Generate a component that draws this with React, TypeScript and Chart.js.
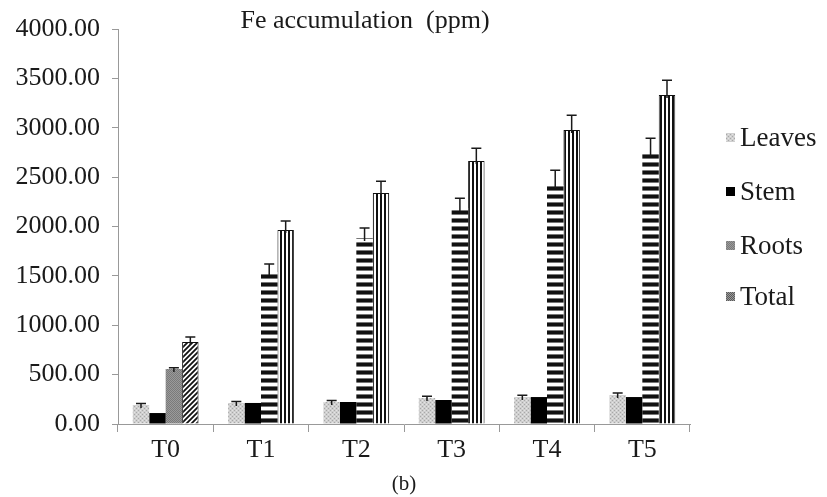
import React, { useEffect, useRef } from "react";
import { Chart, registerables } from "chart.js";

Chart.register(...registerables);

const categories = ["T0", "T1", "T2", "T3", "T4", "T5"];
const leaves = [192, 213, 223, 263, 273, 294];
const stem = [111, 213, 223, 243, 273, 273];
const roots = [557, 1539, 1884, 2187, 2420, 2744];
const total = [830, 1965, 2339, 2663, 2977, 3332];
const leavesErr = [15, 15, 15, 18, 18, 20];
const stemErr = [0, 0, 0, 0, 0, 0];
const rootsErr = [12, 80, 100, 100, 150, 150];
const totalErr = [50, 90, 120, 130, 150, 150];
const yTicks = [0, 500, 1000, 1500, 2000, 2500, 3000, 3500, 4000];
const seriesNames = ["Leaves", "Stem", "Roots", "Total"];

const FONT = "'Liberation Serif', 'Times New Roman', serif";

function makePattern(w: number, h: number, draw: (c: CanvasRenderingContext2D) => void) {
  const cv = document.createElement("canvas");
  cv.width = w;
  cv.height = h;
  const c = cv.getContext("2d")!;
  draw(c);
  return c.createPattern(cv, "repeat")!;
}

export default function App() {
  const ref = useRef<HTMLCanvasElement | null>(null);
  useEffect(() => {
    document.body.style.margin = "0";
    const canvas = ref.current!;

    const leavesPat = makePattern(4, 4, (c) => {
      c.fillStyle = "#cfcfcf";
      c.fillRect(0, 0, 4, 4);
      c.fillStyle = "#a8a8a8";
      c.fillRect(0, 0, 1, 1);
      c.fillRect(2, 2, 1, 1);
      c.fillStyle = "#e4e4e4";
      c.fillRect(2, 0, 1, 1);
      c.fillRect(0, 2, 1, 1);
    });
    const rootsPat = makePattern(2, 8, (c) => {
      c.fillStyle = "#ffffff";
      c.fillRect(0, 0, 2, 8);
      c.fillStyle = "#777";
      c.fillRect(0, 2, 2, 1);
      c.fillRect(0, 6, 2, 1);
      c.fillStyle = "#111";
      c.fillRect(0, 3, 2, 3);
    });
    const rootsT0Pat = makePattern(2, 2, (c) => {
      c.fillStyle = "#9a9a9a";
      c.fillRect(0, 0, 2, 2);
      c.fillStyle = "#7a7a7a";
      c.fillRect(0, 0, 1, 1);
      c.fillRect(1, 1, 1, 1);
    });
    const totalPat = makePattern(4, 2, (c) => {
      c.fillStyle = "#ffffff";
      c.fillRect(0, 0, 4, 2);
      c.fillStyle = "#111";
      c.fillRect(0, 0, 2, 2);
    });
    const totalT0Pat = makePattern(5, 5, (c) => {
      c.fillStyle = "#ffffff";
      c.fillRect(0, 0, 5, 5);
      c.strokeStyle = "#111";
      c.lineWidth = 1.8;
      c.beginPath();
      c.moveTo(-1, 6);
      c.lineTo(6, -1);
      c.moveTo(-1, 1);
      c.lineTo(1, -1);
      c.moveTo(4, 6);
      c.lineTo(6, 4);
      c.stroke();
    });
    const totalLegPat = makePattern(2, 2, (c) => {
      c.fillStyle = "#9a9a9a";
      c.fillRect(0, 0, 2, 2);
      c.fillStyle = "#5a5a5a";
      c.fillRect(0, 0, 1, 1);
      c.fillRect(1, 1, 1, 1);
    });

    const errs = [leavesErr, stemErr, rootsErr, totalErr];
    const legendFills: any[] = [leavesPat, "#000", rootsT0Pat, totalLegPat];

    const errorBars = {
      id: "errorBars",
      afterDatasetsDraw(chart: any) {
        const ctx = chart.ctx;
        const y = chart.scales.y;
        ctx.save();
        ctx.strokeStyle = "#1a1a1a";
        ctx.lineWidth = 1.5;
        chart.data.datasets.forEach((ds: any, i: number) => {
          const meta = chart.getDatasetMeta(i);
          meta.data.forEach((bar: any, j: number) => {
            const e = errs[i][j];
            if (!e) return;
            const yTop = y.getPixelForValue(ds.data[j] + e);
            const yBot = y.getPixelForValue(ds.data[j]);
            ctx.beginPath();
            ctx.moveTo(bar.x, yBot + 3);
            ctx.lineTo(bar.x, yTop);
            ctx.moveTo(bar.x - 5, yTop);
            ctx.lineTo(bar.x + 5, yTop);
            ctx.stroke();
          });
        });
        ctx.restore();
      },
    };

    const overlay = {
      id: "overlay",
      afterDraw(chart: any) {
        const ctx = chart.ctx;
        ctx.save();
        ctx.fillStyle = "#1a1a1a";
        ctx.font = `26px ${FONT}`;
        ctx.textAlign = "center";
        ctx.textBaseline = "middle";
        ctx.fillText("Fe accumulation  (ppm)", 365, 21);
        const ys = [138, 192, 246, 297];
        ctx.textAlign = "left";
        ctx.font = `27px ${FONT}`;
        seriesNames.forEach((n, i) => {
          ctx.fillStyle = legendFills[i];
          ctx.fillRect(726, ys[i] - 5, 9, 9);
          ctx.fillStyle = "#1a1a1a";
          ctx.fillText(n, 740, ys[i] + 1);
        });
        ctx.restore();
      },
    };

    const chart = new Chart(canvas, {
      type: "bar",
      data: {
        labels: categories,
        datasets: [
          { label: seriesNames[0], data: leaves, backgroundColor: leavesPat },
          { label: seriesNames[1], data: stem, backgroundColor: "#000000" },
          {
            label: seriesNames[2],
            data: roots,
            backgroundColor: (c: any) => (c.dataIndex === 0 ? rootsT0Pat : rootsPat),
          },
          {
            label: seriesNames[3],
            data: total,
            backgroundColor: (c: any) => (c.dataIndex === 0 ? totalT0Pat : totalPat),
            borderColor: "#111",
            borderWidth: 1,
          },
        ],
      },
      options: {
        responsive: false,
        animation: false,
        devicePixelRatio: 1,
        layout: { padding: { top: 29, right: 137, bottom: 0, left: 0 } },
        datasets: { bar: { barPercentage: 1, categoryPercentage: 0.69 } },
        plugins: { legend: { display: false }, title: { display: false }, tooltip: { enabled: false } },
        scales: {
          x: {
            offset: true,
            grid: { display: true, drawOnChartArea: false, offset: true, tickLength: 8, color: "#999" },
            border: { display: true, color: "#999", width: 1 },
            ticks: { color: "#1a1a1a", font: { family: FONT, size: 26 }, padding: 3 },
            title: { display: true, text: "(b)", color: "#1a1a1a", font: { family: FONT, size: 21 }, padding: { top: 0, bottom: 0 } },
            afterFit: (s: any) => {
              s.height = 73;
            },
          },
          y: {
            min: 0,
            max: 4000,
            afterBuildTicks: (s: any) => {
              s.ticks = yTicks.map((v) => ({ value: v }));
            },
            grid: { display: true, drawOnChartArea: false, tickLength: 6, color: "#999" },
            border: { display: true, color: "#999", width: 1 },
            ticks: {
              color: "#1a1a1a",
              font: { family: FONT, size: 26 },
              padding: 12,
              callback: (v: any) => Number(v).toFixed(2),
            },
            afterFit: (s: any) => {
              s.width = 118;
            },
          },
        },
      },
      plugins: [errorBars, overlay],
    });
    return () => chart.destroy();
  }, []);

  return (
    <div style={{ width: 827, height: 497 }}>
      <canvas ref={ref} width={827} height={497} />
    </div>
  );
}
